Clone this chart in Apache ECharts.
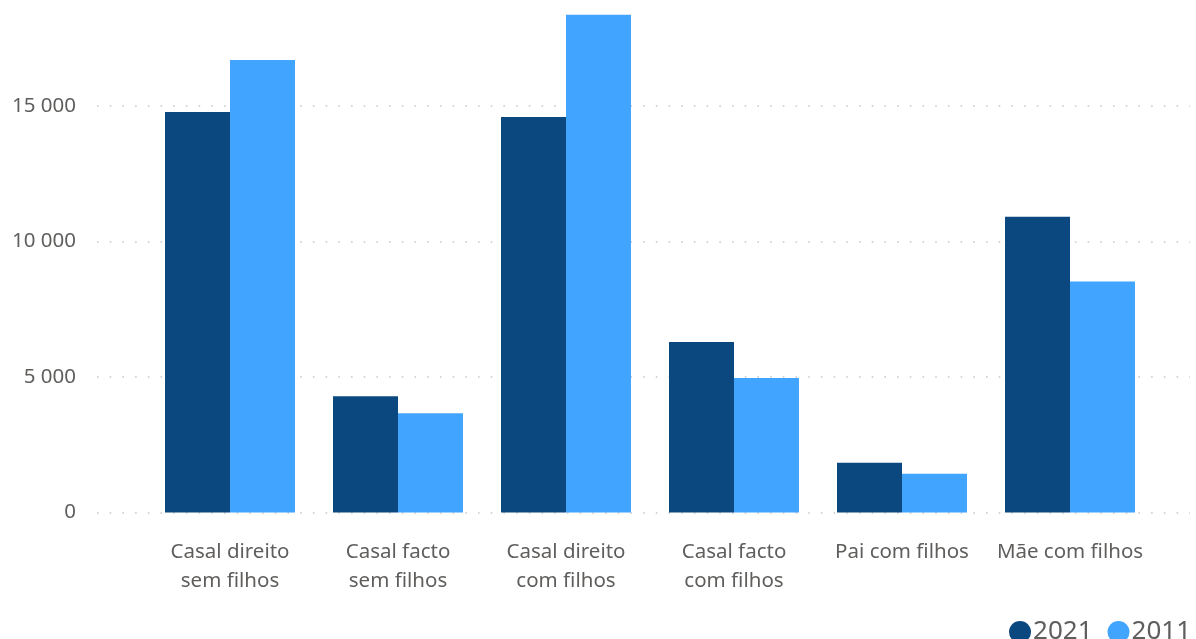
<!DOCTYPE html>
<html>
<head>
<meta charset="utf-8">
<script src="https://cdn.jsdelivr.net/npm/echarts@6/dist/echarts.min.js"></script>
<style>html,body{margin:0;padding:0;background:#fff}#c{width:1196px;height:639px}</style>
</head>
<body>
<div id="c"></div>
<script>
const categories = ["Casal direito\nsem filhos", "Casal facto\nsem filhos", "Casal direito\ncom filhos", "Casal facto\ncom filhos", "Pai com filhos", "Mãe com filhos"];
const series2021 = [14780, 4290, 14590, 6290, 1840, 10910];
const series2011 = [16700, 3660, 18370, 4960, 1430, 8520];
const seriesNames = ["2021", "2011"];
const yTicks = { min: 0, max: 18500, interval: 5000 };

const FONT = "'Noto Sans', 'Open Sans', sans-serif";
const TXT = "#605E5C";
const gridTop = 11.15, gridBottom = 126.5;

const chart = echarts.init(document.getElementById('c'), null, { renderer: 'canvas' });
chart.setOption({
  animation: false,
  backgroundColor: '#fff',
  textStyle: { fontFamily: FONT },
  legend: {
    data: seriesNames,
    right: 0, top: 614,
    icon: 'circle',
    itemWidth: 22, itemHeight: 22, itemGap: 15,
    textStyle: { fontFamily: FONT, fontSize: 26, color: TXT, padding: [0, 0, 0, -3] }
  },
  grid: [
    { left: 97, right: 6, top: gridTop, bottom: gridBottom },
    { left: 146, right: 42, top: gridTop, bottom: gridBottom }
  ],
  xAxis: [
    { gridIndex: 0, type: 'value', min: 0, max: 1, show: false },
    {
      gridIndex: 1, type: 'category', data: categories,
      axisLine: { show: false }, axisTick: { show: false },
      axisLabel: { margin: 25, fontFamily: FONT, fontSize: 20.5, lineHeight: 29, color: TXT, interval: 0 }
    }
  ],
  yAxis: [
    {
      gridIndex: 0, type: 'value', min: yTicks.min, max: yTicks.max, interval: yTicks.interval,
      axisLine: { show: false }, axisTick: { show: false },
      axisLabel: {
        margin: 21, fontFamily: FONT, fontSize: 20.5, color: TXT, showMaxLabel: false,
        formatter: v => (v % yTicks.interval !== 0) ? '' : (v === 0 ? '0' : String(v).replace(/\B(?=(\d{3})+(?!\d))/g, ' '))
      },
      splitLine: { show: true, showMaxLine: false, lineStyle: { color: '#c8c8c8', width: 1.6, type: [1.6, 11.1] } }
    },
    {
      gridIndex: 1, type: 'value', min: yTicks.min, max: yTicks.max, interval: yTicks.interval,
      show: false, splitLine: { show: false }
    }
  ],
  series: [
    {
      name: seriesNames[0], type: 'bar', xAxisIndex: 1, yAxisIndex: 1,
      data: series2021, barWidth: 65, barGap: '0%',
      itemStyle: { color: '#0B4880' }
    },
    {
      name: seriesNames[1], type: 'bar', xAxisIndex: 1, yAxisIndex: 1,
      data: series2011, barWidth: 65, barGap: '0%',
      itemStyle: { color: '#41A4FF' }
    }
  ]
});
</script>
</body>
</html>
